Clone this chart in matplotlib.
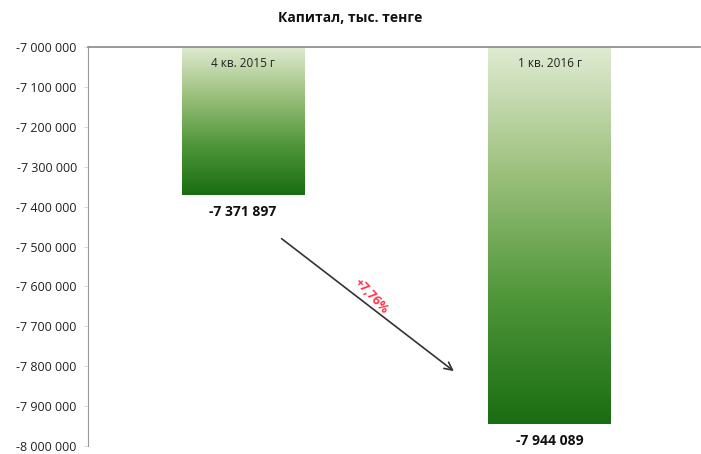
import numpy as np
import matplotlib
matplotlib.use('Agg')
import matplotlib.pyplot as plt
from matplotlib.colors import LinearSegmentedColormap
from matplotlib.ticker import FuncFormatter

plt.rcParams['font.family'] = ['Open Sans', 'DejaVu Sans']

periods = ['4 кв. 2015 г', '1 кв. 2016 г']
capital = [-7371897, -7944089]
change_label = '+7,76%'
base = -7000000


def fmt_space(v, pos=None):
    s = '{:,.0f}'.format(abs(v)).replace(',', ' ')
    return ('-' if v < 0 else '') + s


fig = plt.figure(figsize=(7.01, 4.54), dpi=100)
ax = fig.add_axes([0.1255, 0.018, 0.873, 0.878])

# gradient: pale green at top, dark green at the bar end
cmap = LinearSegmentedColormap.from_list('grn', ['#e0ebd2', '#9cc07c', '#4f9639', '#1a6d12'])
grad = np.linspace(0, 1, 256).reshape(-1, 1)
width = 0.4
for i, v in enumerate(capital):
    ax.imshow(grad, cmap=cmap, aspect='auto', origin='upper',
              extent=(i - width / 2, i + width / 2, v, base), zorder=2)
    ax.text(i, base - 25000, periods[i], ha='center', va='top', fontsize=8.5, color='#222222', zorder=3)
    ax.text(i, v - 25000, fmt_space(v), ha='center', va='top', fontsize=10,
            fontweight='bold', color='#111111')

ax.set_xlim(-0.505, 1.49)
ax.set_ylim(-8000000, -7000000)
ax.set_yticks(np.arange(-8000000, -6999999, 100000))
ax.yaxis.set_major_formatter(FuncFormatter(fmt_space))
ax.tick_params(axis='y', labelsize=9, length=3, color='#dddddd', pad=5, labelcolor='#222222')
ax.set_xticks([])

for s in ['right', 'bottom']:
    ax.spines[s].set_visible(False)
ax.spines['left'].set_color('#999999')
ax.spines['top'].set_color('#888888')
ax.spines['top'].set_linewidth(1.2)

ax.annotate('', xy=(0.695, -7817000), xytext=(0.119, -7476000),
            arrowprops=dict(arrowstyle='->', color='#333333', lw=1.2, mutation_scale=14))
ax.text(0.42, -7625000, change_label, color='#ff3344', fontsize=9, fontweight='bold',
        rotation=-47, ha='center', va='center')

fig.suptitle('Капитал, тыс. тенге', x=0.5, y=0.975, fontsize=10, fontweight='bold', color='#111111')

fig.savefig('out.png', dpi=100)
